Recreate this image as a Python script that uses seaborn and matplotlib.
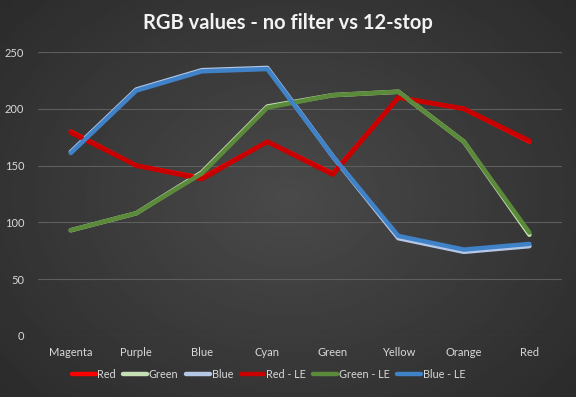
import matplotlib
matplotlib.use("Agg")
import matplotlib.pyplot as plt
import numpy as np
import pandas as pd
import seaborn as sns

colours = ["Magenta", "Purple", "Blue", "Cyan", "Green", "Yellow", "Orange", "Red"]
red = [180, 150, 139, 171, 143, 210, 200, 171]
green = [93, 108, 144, 202, 212, 215, 171, 89]
blue = [162, 217, 234, 236, 158, 86, 74, 79]
red_le = [179, 150, 138, 171, 142, 210, 200, 172]
green_le = [93, 108, 143, 201, 212, 215, 171, 91]
blue_le = [161, 216, 233, 235, 158, 88, 76, 81]

series_names = ["Red", "Green", "Blue", "Red - LE", "Green - LE", "Blue - LE"]
series_values = [red, green, blue, red_le, green_le, blue_le]
palette = ["#ff0000", "#c5e0b4", "#b4c7e7", "#c80000", "#5b8a3a", "#3f82c8"]

df = pd.concat([
    pd.DataFrame({"colour": colours, "pos": range(len(colours)), "value": vals, "series": name})
    for name, vals in zip(series_names, series_values)
])

sns.set_theme(style="dark")
plt.rcParams["font.family"] = ["Lato", "DejaVu Sans"]

fig = plt.figure(figsize=(5.76, 3.97), dpi=100)

# radial grey background
bg = fig.add_axes([0, 0, 1, 1], zorder=-1)
yy, xx = np.mgrid[-1:1:200j, -1:1:300j]
r = np.sqrt(xx ** 2 + (yy * 0.9) ** 2)
bg.imshow(0.29 - 0.09 * r, cmap="gray", vmin=0, vmax=1, aspect="auto", extent=[0, 1, 0, 1])
bg.axis("off")

ax = fig.add_axes([0.066, 0.154, 0.91, 0.715])
ax.set_facecolor("none")

sns.lineplot(data=df, x="pos", y="value", hue="series", hue_order=series_names,
             palette=palette, linewidth=3.2, ax=ax, sort=False)

ax.set_xlim(-0.5, len(colours) - 0.5)
ax.set_ylim(0, 250)
ax.set_yticks(range(0, 251, 50))
ax.set_xticks(range(len(colours)))
ax.set_xticklabels(colours)
ax.tick_params(colors="#d9d9d9", labelsize=8, length=0, pad=8)
ax.tick_params(axis="y", pad=10)
ax.grid(axis="y", color="#5e5e5e", linewidth=0.8)
ax.grid(axis="x", visible=False)
for s in ax.spines.values():
    s.set_visible(False)
ax.set_xlabel("")
ax.set_ylabel("")

leg = ax.legend(loc="center", bbox_to_anchor=(0.44, -0.135), ncol=6, frameon=False,
                fontsize=7.8, handlelength=2.2, handletextpad=0.15, columnspacing=0.7)
for t in leg.get_texts():
    t.set_color("#d9d9d9")

fig.text(0.5, 0.942, "RGB values - no filter vs 12-stop", ha="center", va="center",
         fontsize=14.5, fontweight="bold", color="#f2f2f2")

fig.savefig("out.png", dpi=100)
